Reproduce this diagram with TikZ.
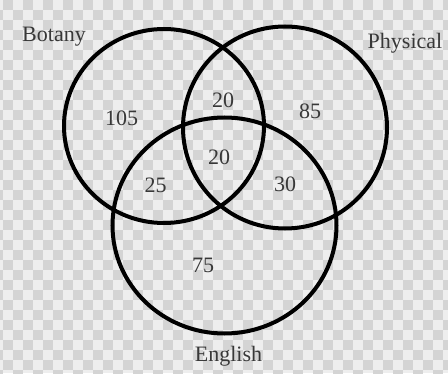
\documentclass[tikz,border=0pt]{standalone}
\usepackage{fontspec}
\setmainfont{Liberation Serif}
\definecolor{chkA}{HTML}{EEEEEE}
\definecolor{chkB}{HTML}{D4D4D4}
\definecolor{txt}{HTML}{383838}
\begin{document}
\begin{tikzpicture}[x=1pt,y=1pt,
  ring/.style={line width=4pt,black},
  lbl/.style={anchor=base,inner sep=0pt,text=txt,font=\fontsize{22}{26}\selectfont}]
\useasboundingbox (0,0) rectangle (448,373);
\fill[chkA] (0,0) rectangle (448,373);
\begin{scope}
\clip (0,0) rectangle (448,373);
\foreach \i in {-1,...,45}{
  \foreach \j in {0,...,37}{
    \pgfmathparse{int(mod(\i+\j,2))}
    \ifnum\pgfmathresult=0
      \fill[chkB] ({3.3+10*\i},{373-10*\j}) rectangle ++(10,-10);
    \fi
  }
}
\end{scope}
% circles (y measured from top: y = 373 - py)
\draw[ring] (164,{373-126}) ellipse [x radius=100, y radius=97];
\draw[ring] (285,{373-127.5}) ellipse [x radius=102, y radius=101];
\draw[ring] (224.5,{373-225.5}) ellipse [x radius=112, y radius=108];
% labels
\node[lbl] (botany) at (54,{373-42}) {Botany};
\node[lbl] (physical) at (405,{373-49}) {Physical};
\node[lbl] (english) at (228.5,{373-361.5}) {English};
\node[lbl] (nb) at (121.5,{373-125.7}) {105};
\node[lbl] (nbp) at (223,{373-107.3}) {20};
\node[lbl] (np) at (310,{373-119}) {85};
\node[lbl] (nall) at (219,{373-165}) {20};
\node[lbl] (nbe) at (155.5,{373-192.3}) {25};
\node[lbl] (npe) at (285,{373-191.7}) {30};
\node[lbl] (ne) at (203,{373-273}) {75};
\end{tikzpicture}
\end{document}
